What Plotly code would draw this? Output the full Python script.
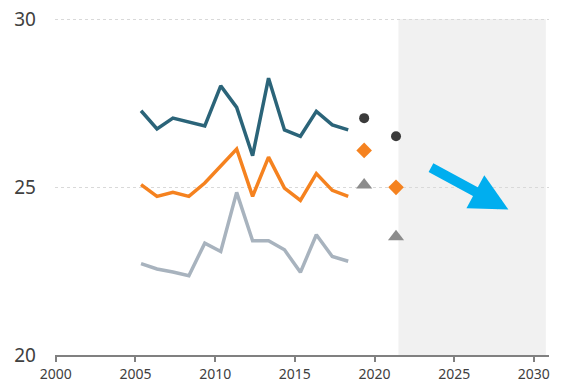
import plotly.graph_objects as go

years = [2005, 2006, 2007, 2008, 2009, 2010, 2011, 2012, 2013, 2014, 2015, 2016, 2017, 2018]
series_top = [27.27, 26.73, 27.05, 26.93, 26.82, 28.01, 27.37, 25.93, 28.24, 26.70, 26.51, 27.25, 26.85, 26.70]
series_mid = [25.07, 24.72, 24.84, 24.72, 25.12, 25.61, 26.13, 24.72, 25.89, 24.97, 24.60, 25.40, 24.90, 24.72]
series_low = [22.72, 22.56, 22.47, 22.36, 23.33, 23.08, 24.84, 23.40, 23.40, 23.13, 22.46, 23.58, 22.93, 22.79]

marker_years = [2019, 2021]
marker_top = [27.05, 26.51]
marker_mid = [26.09, 24.99]
marker_low = [25.06, 23.52]

tick_years = [2000, 2005, 2010, 2015, 2020, 2025, 2030]
y_ticks = [20, 25, 30]

OFFSET = 0.35  # points sit within the year
shade_start, shade_end = 2021.5, 2030.75
arrow_from = (2023.45, 25.6)
arrow_to = (2028.4, 24.33)

def sx(vals):
    return [v + OFFSET for v in vals]

fig = go.Figure()
fig.add_shape(type="rect", xref="x", yref="y", x0=shade_start, x1=shade_end, y0=20, y1=30,
              fillcolor="#F1F1F1", line_width=0, layer="below")

line_w = 3.5
fig.add_trace(go.Scatter(x=sx(years), y=series_top, mode="lines",
                         line=dict(color="#2B6479", width=line_w)))
fig.add_trace(go.Scatter(x=sx(years), y=series_mid, mode="lines",
                         line=dict(color="#F5821F", width=line_w)))
fig.add_trace(go.Scatter(x=sx(years), y=series_low, mode="lines",
                         line=dict(color="#A8B3BE", width=line_w)))
fig.add_trace(go.Scatter(x=sx(marker_years), y=marker_top, mode="markers",
                         marker=dict(symbol="circle", size=10, color="#3B3B3B")))
fig.add_trace(go.Scatter(x=sx(marker_years), y=marker_mid, mode="markers",
                         marker=dict(symbol="diamond", size=12, color="#F5821F")))
fig.add_trace(go.Scatter(x=sx(marker_years), y=marker_low, mode="markers",
                         marker=dict(symbol="triangle-up", size=14, color="#8C8C8C")))

fig.add_annotation(x=arrow_to[0], y=arrow_to[1], ax=arrow_from[0], ay=arrow_from[1],
                   xref="x", yref="y", axref="x", ayref="y", text="", showarrow=True,
                   arrowhead=2, arrowwidth=10, arrowsize=0.75, arrowcolor="#00AEEF")

fig.update_layout(
    width=562, height=385, showlegend=False,
    margin=dict(l=55, r=13, t=18, b=30),
    plot_bgcolor="white", paper_bgcolor="white",
    font=dict(family="Noto Sans, Open Sans, sans-serif", color="#404040"),
    xaxis=dict(range=[1999.95, 2030.95], tickvals=tick_years, showgrid=False, zeroline=False,
               automargin=False,
               showline=True, linecolor="#808080", linewidth=1.5, ticks="outside",
               tickcolor="#808080", ticklen=5, tickwidth=1.5, tickfont=dict(size=14, color="#404040")),
    yaxis=dict(range=[20, 30.03], tickvals=y_ticks, showgrid=True, gridcolor="#D9D9D9",
               griddash="dot", gridwidth=1, zeroline=False, showline=False, automargin=False,
               ticks="", ticklabelstandoff=18, tickfont=dict(size=19, color="#404040")),
)

fig.write_html("out.html", config={"displayModeBar": False},
               post_script="document.body.style.margin='0';document.body.style.overflow='hidden';")
